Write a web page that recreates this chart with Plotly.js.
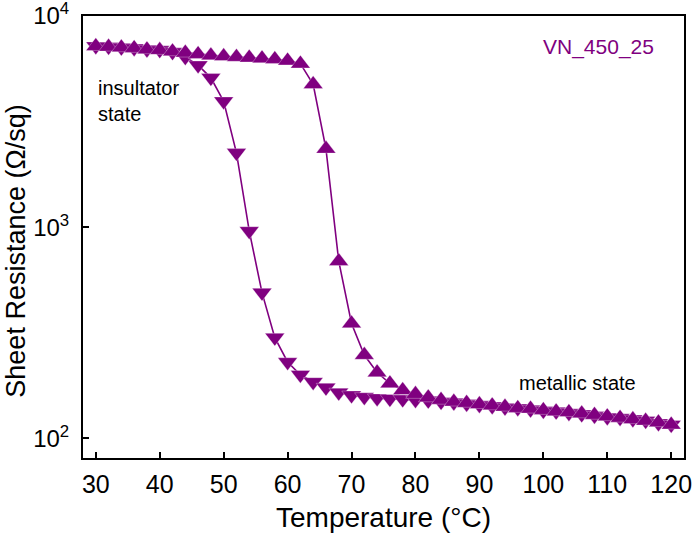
<!DOCTYPE html>
<html>
<head>
<meta charset="utf-8">
<script src="https://cdn.plot.ly/plotly-3.0.1.min.js"></script>
<style>
  html, body { margin: 0; padding: 0; background: #ffffff; }
  #chart { width: 694px; height: 535px; }
</style>
</head>
<body>
<div id="chart"></div>
<script>
// Temperature sweep points (°C)
const temperature = [30, 32, 34, 36, 38, 40, 42, 44, 46, 48, 50, 52, 54, 56, 58, 60,
  62, 64, 66, 68, 70, 72, 74, 76, 78, 80, 82, 84, 86, 88, 90, 92, 94, 96, 98, 100,
  102, 104, 106, 108, 110, 112, 114, 116, 118, 120];

// Sheet resistance while heating (Ω/sq)
const heatingR = [7200, 7150, 7100, 7050, 6950, 6900, 6800, 6700, 6600, 6500, 6450, 6400,
  6350, 6300, 6250, 6150, 5950, 4750, 2350, 690, 350, 248, 205, 182, 169, 162, 156, 152,
  149, 147, 145, 143, 141, 139, 138, 136, 134, 133, 131, 129, 127, 125, 123, 121, 119, 116];

// Sheet resistance while cooling (Ω/sq)
const coolingR = [7200, 7150, 7100, 7050, 6950, 6900, 6750, 6400, 5850, 5100, 3950, 2250,
  960, 490, 300, 230, 200, 185, 174, 165, 160, 157, 155, 154, 153, 152, 151, 149, 148,
  146, 144, 142, 140, 139, 137, 135, 134, 132, 130, 128, 126, 125, 123, 121, 118, 116];

const xTicks = [30, 40, 50, 60, 70, 80, 90, 100, 110, 120];
const yTicks = [100, 1000, 10000];
const yTickText = ['10<sup>2</sup>', '10<sup>3</sup>', '10<sup>4</sup>'];

const purple = '#800080';
const font = 'Liberation Sans, Arial, sans-serif';

const traces = [
  {
    x: temperature, y: coolingR, type: 'scatter', mode: 'lines+markers',
    line: { color: purple, width: 1.6 },
    marker: { symbol: 'triangle-down', size: 17, color: purple,
              line: { color: '#ffffff', width: 0.3 } },
    name: 'cooling'
  },
  {
    x: temperature, y: heatingR, type: 'scatter', mode: 'lines+markers',
    line: { color: purple, width: 1.6 },
    marker: { symbol: 'triangle-up', size: 17, color: purple,
              line: { color: '#ffffff', width: 0.3 } },
    name: 'heating'
  }
];

const layout = {
  width: 694, height: 535,
  margin: { l: 83, r: 10, t: 16, b: 77, pad: 0 },
  paper_bgcolor: '#ffffff', plot_bgcolor: '#ffffff',
  showlegend: false,
  font: { family: font, color: '#000000' },
  xaxis: {
    range: [28, 122], tickvals: xTicks, ticks: 'inside', ticklen: 6, tickwidth: 2,
    tickcolor: '#000', showline: true, linewidth: 2, linecolor: '#000', mirror: true,
    showgrid: false, zeroline: false, tickfont: { size: 25, family: font },
    ticklabelstandoff: 3, ticklabeloverflow: 'allow'
  },
  yaxis: {
    type: 'log', range: [Math.log10(80.7), 4.0004], tickvals: yTicks, ticktext: yTickText,
    ticks: 'inside', ticklen: 6, tickwidth: 2, tickcolor: '#000',
    showline: true, linewidth: 2, linecolor: '#000', mirror: true,
    showgrid: false, zeroline: false, tickfont: { size: 24, family: font },
    ticklabelstandoff: 7, ticklabeloverflow: 'allow'
  },
  annotations: [
    { text: 'Sheet Resistance (Ω/sq)', xref: 'paper', yref: 'paper', x: -0.113, y: 0.467,
      xanchor: 'center', yanchor: 'middle', textangle: -90, showarrow: false,
      font: { size: 27, family: font, color: '#000' } },
    { text: 'Temperature (°C)', xref: 'paper', yref: 'paper', x: 0.5008, y: -0.135,
      xanchor: 'center', yanchor: 'middle', showarrow: false,
      font: { size: 28, family: font, color: '#000' } },
    { text: 'VN_450_25', xref: 'paper', yref: 'paper', x: 0.857, y: 0.93,
      xanchor: 'center', yanchor: 'middle', showarrow: false,
      font: { size: 21, family: font, color: purple } },
    { text: 'insultator<br>state', xref: 'paper', yref: 'paper', x: 0.022, y: 0.808,
      xanchor: 'left', yanchor: 'middle', align: 'left', showarrow: false,
      font: { size: 20, family: font, color: '#000' } },
    { text: 'metallic state', xref: 'paper', yref: 'paper', x: 0.722, y: 0.17,
      xanchor: 'left', yanchor: 'middle', showarrow: false,
      font: { size: 20, family: font, color: '#000' } }
  ]
};

Plotly.newPlot('chart', traces, layout, { displayModeBar: false, staticPlot: true });
</script>
</body>
</html>
